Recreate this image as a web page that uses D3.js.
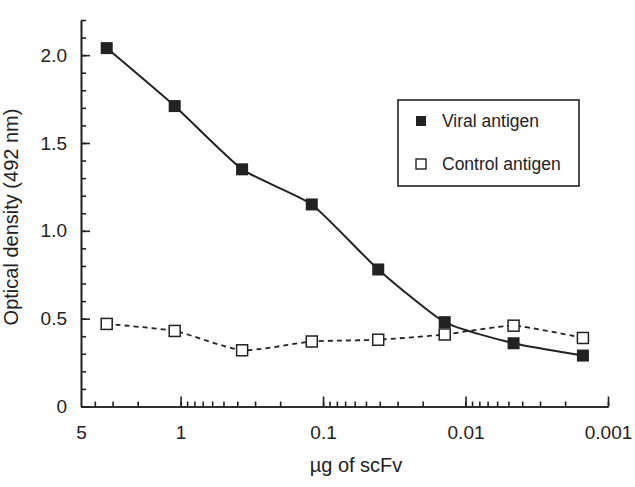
<!DOCTYPE html>
<html>
<head>
<meta charset="utf-8">
<script src="https://cdn.jsdelivr.net/npm/d3@7"></script>
<style>
  body { margin: 0; background: #fff; }
  svg { display: block; font-family: "Liberation Sans", Arial, sans-serif; }
</style>
</head>
<body>
<div id="chart"></div>
<script>
// scFv amount (µg), 3-fold dilution series
const doses = [3.3, 1.1, 0.37, 0.12, 0.041, 0.014, 0.0046, 0.0015];
const viral = [2.04, 1.71, 1.35, 1.15, 0.78, 0.48, 0.36, 0.29];
const control = [0.47, 0.43, 0.32, 0.37, 0.38, 0.41, 0.46, 0.39];

const xMajor = [5, 1, 0.1, 0.01, 0.001];
const xLabels = ["5", "1", "0.1", "0.01", "0.001"];
const yMajor = [0, 0.5, 1.0, 1.5, 2.0];
const yLabels = ["0", "0.5", "1.0", "1.5", "2.0"];

const legendNames = ["Viral antigen", "Control antigen"];

const ink = "#222";

const margin = {top: 20, right: 27, bottom: 80, left: 81},
      width = 635 - margin.left - margin.right,
      height = 406.5 - margin.top;

const svg = d3.select("#chart")
  .append("svg")
  .attr("width", 635)
  .attr("height", 487)
  .append("g")
  .attr("transform", `translate(${margin.left},${margin.top})`);

const x = d3.scaleLog()
  .domain([5, 0.001])
  .range([0, width]);

const y = d3.scaleLinear()
  .domain([0, 2.2])
  .range([height, 0]);

// x axis: minor log ticks, then major ticks with labels
svg.append("g")
  .attr("transform", `translate(0,${height})`)
  .call(d3.axisBottom(x)
    .tickValues(x.ticks().filter(v => v < 5))
    .tickSizeInner(-5)
    .tickSizeOuter(0)
    .tickFormat(""));

svg.append("g")
  .attr("class", "xmajor")
  .attr("transform", `translate(0,${height})`)
  .call(d3.axisBottom(x)
    .tickValues(xMajor)
    .tickSizeInner(-10)
    .tickSizeOuter(0)
    .tickPadding(19)
    .tickFormat((d, i) => xLabels[i]));

svg.selectAll(".xmajor .tick")
  .filter(d => d === 5)
  .select("line").remove();

// y axis
svg.append("g")
  .call(d3.axisLeft(y)
    .tickValues(d3.range(0, 23).map(i => i / 10))
    .tickSizeInner(-5)
    .tickSizeOuter(0)
    .tickFormat(""));

svg.append("g")
  .attr("class", "ymajor")
  .call(d3.axisLeft(y)
    .tickValues(yMajor)
    .tickSizeInner(-9)
    .tickSizeOuter(0)
    .tickPadding(14)
    .tickFormat((d, i) => yLabels[i]));

svg.selectAll(".domain, .tick line")
  .attr("stroke", ink)
  .attr("stroke-width", 1.6);

svg.selectAll(".tick text")
  .attr("fill", ink)
  .attr("font-size", "19px");

svg.selectAll(".ymajor .tick text").attr("x", -14);

// axis titles
svg.append("text")
  .attr("x", 275)
  .attr("y", 452)
  .attr("text-anchor", "middle")
  .attr("font-size", "20px")
  .attr("fill", ink)
  .text("µg of scFv");

svg.append("text")
  .attr("transform", `translate(-63,197) rotate(-90)`)
  .attr("text-anchor", "middle")
  .attr("font-size", "20px")
  .attr("fill", ink)
  .text("Optical density (492 nm)");

// lines
const line = d3.line()
  .x(d => x(d[0]))
  .y(d => y(d[1]))
  .curve(d3.curveCardinal.tension(0.45));

const viralPts = doses.map((d, i) => [d, viral[i]]);
const controlPts = doses.map((d, i) => [d, control[i]]);

svg.append("path")
  .datum(controlPts)
  .attr("d", line)
  .attr("fill", "none")
  .attr("stroke", ink)
  .attr("stroke-width", 1.8)
  .attr("stroke-dasharray", "5,4");

svg.append("path")
  .datum(viralPts)
  .attr("d", line)
  .attr("fill", "none")
  .attr("stroke", ink)
  .attr("stroke-width", 2);

svg.selectAll("rect.control")
  .data(controlPts)
  .join("rect")
  .attr("class", "control")
  .attr("x", d => x(d[0]) - 5.5)
  .attr("y", d => y(d[1]) - 5.5)
  .attr("width", 11)
  .attr("height", 11)
  .attr("fill", "#fff")
  .attr("stroke", ink)
  .attr("stroke-width", 1.5);

svg.selectAll("rect.viral")
  .data(viralPts)
  .join("rect")
  .attr("class", "viral")
  .attr("x", d => x(d[0]) - 6)
  .attr("y", d => y(d[1]) - 6)
  .attr("width", 12)
  .attr("height", 12)
  .attr("fill", ink);

// legend
const legend = svg.append("g")
  .attr("transform", `translate(${398 - margin.left},${100 - margin.top})`);

legend.append("rect")
  .attr("width", 181)
  .attr("height", 86)
  .attr("fill", "#fff")
  .attr("stroke", ink)
  .attr("stroke-width", 1.6);

legendNames.forEach((name, i) => {
  const cy = 21 + i * 43;
  legend.append("rect")
    .attr("x", 18)
    .attr("y", cy - 5)
    .attr("width", 10)
    .attr("height", 10)
    .attr("fill", i === 0 ? ink : "#fff")
    .attr("stroke", ink)
    .attr("stroke-width", i === 0 ? 0 : 1.4);
  legend.append("text")
    .attr("x", 44)
    .attr("y", cy + 6)
    .attr("font-size", "17.5px")
    .attr("fill", ink)
    .text(name);
});
</script>
</body>
</html>
